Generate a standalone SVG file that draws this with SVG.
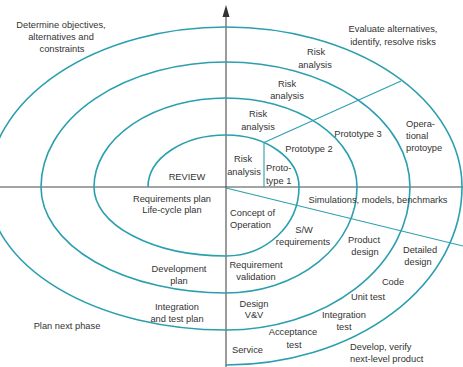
<svg xmlns="http://www.w3.org/2000/svg" width="463" height="367" viewBox="0 0 463 367">
  <defs>
    <style>
      .axis { stroke: #4a4a4a; stroke-width: 1.1; fill: none; }
      .spiral { stroke: #2b9fae; stroke-width: 1.6; fill: none; }
      .divider { stroke: #2b9fae; stroke-width: 1.1; fill: none; }
      text { font-family: "Liberation Sans", Arial, sans-serif; font-size: 9.3px; fill: #333; }
      .m { text-anchor: middle; }
      .s { text-anchor: start; }
    </style>
    <marker id="arrow" viewBox="0 0 8 12" refX="4" refY="1" markerWidth="8" markerHeight="12" markerUnits="userSpaceOnUse" orient="auto-start-reverse">
      <path d="M4,0 L7,11 L1,11 Z" fill="#333"/>
    </marker>
  </defs>

  <rect width="463" height="367" fill="#ffffff"/>

  <!-- quadrant axes -->
  <g id="axes">
    <line class="axis" x1="0" y1="187" x2="463" y2="187"/>
    <line class="axis" x1="226" y1="367" x2="226" y2="8"/>
    <path d="M226,5 L229.5,17 L222.5,17 Z" fill="#333"/>
  </g>

  <!-- spiral built from quarter ellipses around the axis origin -->
  <g id="connectors">
    <path id="spiral" class="spiral" d="M148,187 A78,52 0 0 1 226,135 A73,52 0 0 1 299,187 A73,69 0 0 1 226,256 A132,69 0 0 1 94,187 A132,89 0 0 1 226,98 A131,89 0 0 1 357,187 A131,106 0 0 1 226,293 A185,106 0 0 1 41,187 A185,125 0 0 1 226,62 A184,125 0 0 1 410,187 A184,143 0 0 1 226,330 A238,143 0 0 1 -12,187 A238,160 0 0 1 226,27 A236,160 0 0 1 462,187 A236,178 0 0 1 226,365"/>
    <line class="divider" x1="264" y1="187" x2="264" y2="142.5"/>
    <line class="divider" x1="264" y1="142.5" x2="401" y2="81"/>
    <line class="divider" x1="226" y1="188" x2="463" y2="246"/>
  </g>

  <!-- quadrant titles -->
  <g id="quadrant-titles">
    <text class="m" x="61" y="28">Determine objectives,</text>
    <text class="m" x="61" y="40">alternatives and</text>
    <text class="m" x="62" y="52">constraints</text>
    <text class="m" x="393" y="32">Evaluate alternatives,</text>
    <text class="m" x="393" y="44.5">identify, resolve risks</text>
    <text class="m" x="67" y="329">Plan next phase</text>
    <text class="s" x="350" y="349.5">Develop, verify</text>
    <text class="s" x="350" y="361.5">next-level product</text>
  </g>

  <!-- risk analysis and prototypes -->
  <g id="risk-analysis">
    <text class="m" x="316" y="55">Risk</text>
    <text class="m" x="315" y="68">analysis</text>
    <text class="m" x="287" y="87">Risk</text>
    <text class="m" x="287" y="99">analysis</text>
    <text class="m" x="258" y="117">Risk</text>
    <text class="m" x="258" y="130">analysis</text>
    <text class="m" x="243" y="162">Risk</text>
    <text class="m" x="244" y="175">analysis</text>
  </g>
  <g id="prototypes">
    <text class="s" x="266" y="171">Proto-</text>
    <text class="s" x="266" y="184">type 1</text>
    <text class="m" x="309" y="151.5">Prototype 2</text>
    <text class="m" x="358" y="137">Prototype 3</text>
    <text class="s" x="406" y="127">Opera-</text>
    <text class="s" x="406" y="139">tional</text>
    <text class="s" x="406" y="151">protoype</text>
  </g>

  <!-- planning -->
  <g id="review">
    <text class="m" x="187" y="180">REVIEW</text>
  </g>
  <g id="plans">
    <text class="m" x="172" y="201.5">Requirements plan</text>
    <text class="m" x="172" y="213">Life-cycle plan</text>
    <text class="m" x="179" y="271.5">Development</text>
    <text class="m" x="179" y="284">plan</text>
    <text class="m" x="177" y="309.5">Integration</text>
    <text class="m" x="177" y="322">and test plan</text>
  </g>

  <!-- development -->
  <g id="development">
    <text class="m" x="378" y="203">Simulations, models, benchmarks</text>
    <text class="s" x="230" y="216">Concept of</text>
    <text class="s" x="230" y="228">Operation</text>
    <text class="m" x="304" y="233">S/W</text>
    <text class="m" x="303" y="245">requirements</text>
    <text class="m" x="364" y="243">Product</text>
    <text class="m" x="365" y="254.5">design</text>
    <text class="m" x="420" y="253">Detailed</text>
    <text class="m" x="418" y="265">design</text>
    <text class="m" x="256" y="268">Requirement</text>
    <text class="m" x="256" y="279.5">validation</text>
    <text class="m" x="393" y="284.5">Code</text>
    <text class="m" x="368" y="299.5">Unit test</text>
    <text class="m" x="254" y="306.5">Design</text>
    <text class="m" x="254" y="318">V&amp;V</text>
    <text class="m" x="344" y="318">Integration</text>
    <text class="m" x="344" y="330">test</text>
    <text class="m" x="293" y="334.5">Acceptance</text>
    <text class="m" x="294" y="348">test</text>
    <text class="s" x="232" y="353">Service</text>
  </g>
</svg>
